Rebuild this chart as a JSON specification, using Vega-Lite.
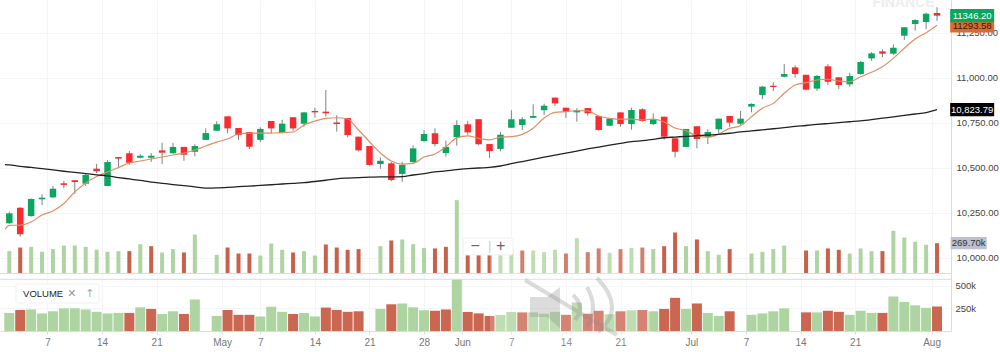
{
"$schema":"https://vega.github.io/schema/vega-lite/v6.json",
"width":951,"height":331,"autosize":{"type":"none"},
"padding":{"left":0,"top":0,"right":49,"bottom":21},
"background":"#ffffff",
"config":{"view":{"stroke":null},"font":"Liberation Sans"},
"datasets":{
"one":[{"k":85}],
"lastVolume":[{"k":85,"label":"269.70k","volume":269700}],
"sessions":[
{"k":-0.4,"ema":10159,"sma":10519},
{"k":0,"open":10193,"high":10257,"low":10189,"close":10248,"volume":199000,"flow":"up","ema":10181,"sma":10517},
{"k":1,"open":10279,"high":10283,"low":10118,"close":10132,"volume":231000,"flow":"down","ema":10183,"sma":10509},
{"k":2,"open":10233,"high":10330,"low":10230,"close":10328,"volume":237000,"flow":"up","ema":10200,"sma":10503},
{"k":3,"open":10326,"high":10354,"low":10294,"close":10335,"volume":193000,"flow":"up","ema":10239,"sma":10496},
{"k":4,"open":10337,"high":10400,"low":10333,"close":10385,"volume":217000,"flow":"up","ema":10261,"sma":10489},
{"k":5,"open":10415,"high":10428,"low":10387,"close":10406,"volume":249000,"flow":"up","ema":10303,"sma":10482},
{"k":6,"open":10432,"high":10432,"low":10356,"close":10422,"volume":249000,"flow":"up","ema":10367,"sma":10476},
{"k":7,"open":10413,"high":10471,"low":10400,"close":10461,"volume":237000,"flow":"up","ema":10417,"sma":10469},
{"k":8,"open":10496,"high":10522,"low":10471,"close":10482,"volume":211000,"flow":"up","ema":10453,"sma":10462},
{"k":9,"open":10400,"high":10544,"low":10400,"close":10533,"volume":193000,"flow":"up","ema":10478,"sma":10456},
{"k":10,"open":10561,"high":10561,"low":10498,"close":10552,"volume":199000,"flow":"up","ema":10503,"sma":10447},
{"k":11,"open":10582,"high":10594,"low":10517,"close":10529,"volume":199000,"flow":"down","ema":10528,"sma":10439},
{"k":12,"open":10557,"high":10576,"low":10554,"close":10568,"volume":261000,"flow":"up","ema":10539,"sma":10431},
{"k":13,"open":10557,"high":10583,"low":10533,"close":10568,"volume":243000,"flow":"down","ema":10550,"sma":10422},
{"k":14,"open":10598,"high":10640,"low":10522,"close":10585,"volume":187000,"flow":"up","ema":10561,"sma":10415},
{"k":15,"open":10582,"high":10639,"low":10578,"close":10617,"volume":217000,"flow":"up","ema":10572,"sma":10408},
{"k":16,"open":10617,"high":10617,"low":10540,"close":10574,"volume":187000,"flow":"down","ema":10583,"sma":10402},
{"k":17,"open":10590,"high":10632,"low":10565,"close":10622,"volume":347000,"flow":"up","ema":10600,"sma":10395},
{"k":18,"open":10656,"high":10720,"low":10656,"close":10694,"ema":10622,"sma":10388},
{"k":19,"open":10707,"high":10759,"low":10707,"close":10743,"volume":166000,"flow":"up","ema":10644,"sma":10389},
{"k":20,"open":10787,"high":10787,"low":10693,"close":10720,"volume":231000,"flow":"down","ema":10661,"sma":10392},
{"k":21,"open":10722,"high":10722,"low":10656,"close":10683,"volume":178000,"flow":"down","ema":10689,"sma":10396},
{"k":22,"open":10700,"high":10700,"low":10604,"close":10618,"volume":178000,"flow":"down","ema":10694,"sma":10399},
{"k":23,"open":10656,"high":10726,"low":10643,"close":10717,"volume":160000,"flow":"up","ema":10694,"sma":10403},
{"k":24,"open":10761,"high":10761,"low":10693,"close":10720,"volume":267000,"flow":"up","ema":10694,"sma":10407},
{"k":25,"open":10694,"high":10768,"low":10694,"close":10746,"volume":211000,"flow":"up","ema":10697,"sma":10411},
{"k":26,"open":10782,"high":10782,"low":10707,"close":10720,"volume":187000,"flow":"down","ema":10700,"sma":10415},
{"k":27,"open":10746,"high":10809,"low":10729,"close":10809,"volume":199000,"flow":"up","ema":10739,"sma":10419},
{"k":28,"open":10817,"high":10835,"low":10779,"close":10809,"volume":160000,"flow":"up","ema":10761,"sma":10425},
{"k":29,"open":10813,"high":10933,"low":10785,"close":10804,"volume":258000,"flow":"down","ema":10776,"sma":10432},
{"k":30,"open":10753,"high":10793,"low":10702,"close":10744,"volume":231000,"flow":"down","ema":10779,"sma":10440},
{"k":31,"open":10778,"high":10778,"low":10671,"close":10683,"volume":211000,"flow":"down","ema":10772,"sma":10444},
{"k":32,"open":10674,"high":10674,"low":10593,"close":10598,"volume":217000,"flow":"down","ema":10711,"sma":10447},
{"k":33,"open":10622,"high":10622,"low":10513,"close":10517,"ema":10646,"sma":10449},
{"k":34,"open":10522,"high":10559,"low":10496,"close":10540,"volume":243000,"flow":"up","ema":10583,"sma":10451},
{"k":35,"open":10526,"high":10535,"low":10426,"close":10433,"volume":294000,"flow":"down","ema":10539,"sma":10451},
{"k":36,"open":10467,"high":10535,"low":10424,"close":10517,"volume":303000,"flow":"up","ema":10522,"sma":10452},
{"k":37,"open":10533,"high":10626,"low":10526,"close":10609,"volume":261000,"flow":"up","ema":10526,"sma":10461},
{"k":38,"open":10650,"high":10711,"low":10646,"close":10689,"volume":228000,"flow":"up","ema":10561,"sma":10469},
{"k":39,"open":10693,"high":10720,"low":10620,"close":10633,"volume":223000,"flow":"down","ema":10578,"sma":10478},
{"k":40,"open":10583,"high":10652,"low":10563,"close":10617,"volume":237000,"flow":"down","ema":10618,"sma":10484},
{"k":41,"open":10672,"high":10765,"low":10624,"close":10739,"volume":653000,"flow":"up","ema":10667,"sma":10491},
{"k":42,"open":10743,"high":10761,"low":10685,"close":10698,"volume":209000,"flow":"down","ema":10678,"sma":10496},
{"k":43,"open":10771,"high":10771,"low":10626,"close":10632,"volume":194000,"flow":"down","ema":10665,"sma":10500},
{"k":44,"open":10633,"high":10633,"low":10556,"close":10594,"volume":165000,"flow":"down","ema":10656,"sma":10503},
{"k":45,"open":10606,"high":10700,"low":10593,"close":10685,"volume":176000,"flow":"up","ema":10671,"sma":10511},
{"k":46,"open":10724,"high":10821,"low":10724,"close":10771,"volume":209000,"flow":"up","ema":10674,"sma":10524},
{"k":47,"open":10739,"high":10783,"low":10711,"close":10771,"volume":205000,"flow":"down","ema":10687,"sma":10536},
{"k":48,"open":10779,"high":10854,"low":10779,"close":10789,"volume":205000,"flow":"up","ema":10721,"sma":10548},
{"k":49,"open":10821,"high":10857,"low":10794,"close":10846,"volume":190000,"flow":"up","ema":10778,"sma":10560},
{"k":50,"open":10891,"high":10891,"low":10844,"close":10859,"volume":211000,"flow":"up","ema":10809,"sma":10571},
{"k":51,"open":10835,"high":10835,"low":10778,"close":10813,"volume":178000,"flow":"down","ema":10813,"sma":10583},
{"k":52,"open":10809,"high":10832,"low":10757,"close":10821,"volume":314000,"flow":"up","ema":10818,"sma":10594},
{"k":53,"open":10833,"high":10833,"low":10790,"close":10804,"volume":190000,"flow":"down","ema":10817,"sma":10606},
{"k":54,"open":10789,"high":10789,"low":10707,"close":10711,"volume":223000,"flow":"down","ema":10789,"sma":10616},
{"k":55,"open":10735,"high":10774,"low":10732,"close":10774,"volume":184000,"flow":"up","ema":10776,"sma":10627},
{"k":56,"open":10809,"high":10809,"low":10729,"close":10744,"volume":217000,"flow":"down","ema":10771,"sma":10637},
{"k":57,"open":10744,"high":10835,"low":10713,"close":10822,"volume":228000,"flow":"up","ema":10771,"sma":10646},
{"k":58,"open":10826,"high":10832,"low":10757,"close":10761,"volume":231000,"flow":"down","ema":10767,"sma":10652},
{"k":59,"open":10744,"high":10804,"low":10739,"close":10772,"volume":217000,"flow":"up","ema":10772,"sma":10659},
{"k":60,"open":10785,"high":10785,"low":10658,"close":10674,"volume":243000,"flow":"down","ema":10756,"sma":10668},
{"k":61,"open":10665,"high":10665,"low":10559,"close":10590,"volume":365000,"flow":"down","ema":10722,"sma":10672},
{"k":62,"open":10617,"high":10717,"low":10617,"close":10717,"volume":243000,"flow":"up","ema":10707,"sma":10676},
{"k":63,"open":10732,"high":10732,"low":10609,"close":10661,"volume":303000,"flow":"down","ema":10678,"sma":10679},
{"k":64,"open":10672,"high":10715,"low":10633,"close":10700,"volume":199000,"flow":"up","ema":10671,"sma":10683},
{"k":65,"open":10715,"high":10774,"low":10693,"close":10774,"volume":166000,"flow":"up","ema":10689,"sma":10687},
{"k":66,"open":10789,"high":10789,"low":10729,"close":10752,"volume":217000,"flow":"down","ema":10720,"sma":10693},
{"k":67,"open":10746,"high":10817,"low":10739,"close":10774,"ema":10735,"sma":10701},
{"k":68,"open":10841,"high":10859,"low":10809,"close":10856,"volume":178000,"flow":"up","ema":10785,"sma":10706},
{"k":69,"open":10906,"high":10956,"low":10882,"close":10952,"volume":193000,"flow":"up","ema":10832,"sma":10712},
{"k":70,"open":10957,"high":10976,"low":10928,"close":10950,"volume":217000,"flow":"up","ema":10859,"sma":10718},
{"k":71,"open":11007,"high":11078,"low":11004,"close":11022,"volume":249000,"flow":"up","ema":10915,"sma":10724},
{"k":72,"open":11059,"high":11071,"low":11002,"close":11022,"ema":10961,"sma":10731},
{"k":73,"open":11018,"high":11018,"low":10933,"close":10935,"volume":205000,"flow":"down","ema":10974,"sma":10736},
{"k":74,"open":10941,"high":11017,"low":10929,"close":11011,"volume":205000,"flow":"up","ema":10989,"sma":10742},
{"k":75,"open":11065,"high":11078,"low":10961,"close":10979,"volume":223000,"flow":"down","ema":10993,"sma":10747},
{"k":76,"open":11004,"high":11004,"low":10939,"close":10961,"volume":211000,"flow":"down","ema":10983,"sma":10752},
{"k":77,"open":10965,"high":11029,"low":10952,"close":11011,"volume":178000,"flow":"up","ema":10979,"sma":10757},
{"k":78,"open":11022,"high":11094,"low":11018,"close":11089,"volume":223000,"flow":"up","ema":11007,"sma":10762},
{"k":79,"open":11109,"high":11143,"low":11096,"close":11137,"volume":199000,"flow":"up","ema":11032,"sma":10769},
{"k":80,"open":11148,"high":11159,"low":11115,"close":11135,"volume":199000,"flow":"down","ema":11063,"sma":10777},
{"k":81,"open":11135,"high":11187,"low":11128,"close":11168,"volume":380000,"flow":"up","ema":11109,"sma":10784},
{"k":82,"open":11235,"high":11282,"low":11211,"close":11282,"volume":320000,"flow":"up","ema":11165,"sma":10792},
{"k":83,"open":11300,"high":11326,"low":11263,"close":11322,"volume":282000,"flow":"up","ema":11217,"sma":10800},
{"k":84,"open":11311,"high":11363,"low":11272,"close":11357,"volume":255000,"flow":"up","ema":11252,"sma":10808},
{"k":85,"open":11361,"high":11393,"low":11317,"close":11346.2,"volume":269700,"flow":"down","ema":11293.58,"sma":10823.79}
],
"lastPrices":[
{"k":85,"series":"ema","price":11290,"label":"11293.58"},
{"k":85,"series":"sma","price":10823.79,"label":"10,823.79"},
{"k":85,"series":"close","price":11346.2,"label":"11346.20"}
]
},
"data":{"name":"sessions"},
"encoding":{"x":{"field":"k","type":"quantitative","scale":{"domain":[-0.852,86.28],"nice":false,"zero":false,"padding":0},
"axis":{"title":null,"values":[3.5,8.5,13.5,19.5,23,28,33,38,41.5,46,51,56,62.5,67.5,72.5,77.5,84.5],
"labelExpr":"['7','14','21','May','7','14','21','28','Jun','7','14','21','Jul','7','14','21','Aug'][indexof([3.5,8.5,13.5,19.5,23,28,33,38,41.5,46,51,56,62.5,67.5,72.5,77.5,84.5],datum.value)]",
"labelColor":{"expr":"length(datum.label)>2?'#333333':'#777777'"},
"labelFontSize":10,"labelPadding":3,"tickSize":3,"tickColor":"#d6dcea","domainColor":"#d6dcea","grid":true,"gridColor":"#f4f5f7","labelFlush":false,"labelOverlap":false}}},
"layer":[
{"layer":[
{"mark":{"type":"rule","color":"#808080","strokeWidth":1},"encoding":{"y":{"field":"low","type":"quantitative","scale":{"domain":[9594.4,11433.3],"nice":false,"zero":false,"padding":0},
 "axis":{"title":null,"orient":"right","values":[10000,10250,10500,10750,11000,11250],"format":",.2f","labelFontSize":9.5,"labelColor":"#444444","tickSize":0,"labelPadding":5,"domain":true,"domainColor":"#d6dcea","grid":true,"gridColor":"#f4f5f7"}},"y2":{"field":"high"}}},
{"data":{"name":"one"},"mark":{"type":"text","fontSize":14,"fontWeight":"bold","color":"#eeeeee","align":"center","baseline":"alphabetic"},
 "encoding":{"x":{"datum":81.93},"y":{"datum":11394,"type":"quantitative"},"text":{"value":"FINANCE"}}},
{"mark":{"type":"bar","width":6.5},"encoding":{"y":{"field":"open","type":"quantitative"},"y2":{"field":"close"},
 "color":{"condition":{"test":"datum.close>=datum.open","value":"#09a65f"},"value":"#fa2b2f"}}},
{"mark":{"type":"line","color":"#dd8f62","strokeWidth":1.2,"interpolate":"monotone"},"encoding":{"y":{"field":"ema","type":"quantitative"}}},
{"mark":{"type":"line","color":"#222222","strokeWidth":1.3,"interpolate":"monotone"},"encoding":{"y":{"field":"sma","type":"quantitative"}}},
{"data":{"name":"lastPrices"},"mark":{"type":"point","shape":"M-1,-.3H1V.3H-1Z","filled":true,"opacity":1,"size":1936},
 "encoding":{"x":{"datum":88.22},"y":{"field":"price","type":"quantitative"},
 "color":{"field":"series","type":"nominal","legend":null,"scale":{"domain":["ema","sma","close"],"range":["#e2692a","#000000","#09a65f"]}}}},
{"data":{"name":"lastPrices"},"mark":{"type":"text","fontSize":9.5,"align":"center","baseline":"middle"},
 "encoding":{"x":{"datum":88.22},"y":{"field":"price","type":"quantitative"},"text":{"field":"label"},
 "color":{"condition":{"test":"datum.series==='ema'","value":"#222222"},"value":"#ffffff"}}}
]},
{"layer":[
{"mark":{"type":"bar","width":10},"encoding":{"y":{"field":"volume","type":"quantitative","scale":{"domain":[0,569000],"range":[331,279.3],"nice":false,"zero":false,"clamp":true,"padding":0},
 "axis":{"title":null,"orient":"right","values":[250000,500000],"format":"~s","labelFontSize":9.5,"labelColor":"#444444","tickSize":0,"labelPadding":4,"domain":false,"grid":true,"gridColor":"#f4f5f7"}},
 "color":{"field":"flow","type":"nominal","legend":null,"scale":{"domain":["up","down"],"range":["#aed5a1","#cb6650"]}}}},
{"data":{"name":"one"},"mark":{"type":"rule","color":"#d6dcea","strokeWidth":1},"encoding":{"x":{"value":0},"x2":{"value":951},"y":{"datum":569000,"type":"quantitative"}}}
]},
{"layer":[
{"mark":{"type":"bar","width":4},"encoding":{"y":{"field":"volume","type":"quantitative","scale":{"domain":[0,2434000],"range":[273.5,0],"nice":false,"zero":false,"padding":0},"axis":null},
 "color":{"field":"flow","type":"nominal","legend":null,"scale":{"domain":["up","down"],"range":["#aed5a1","#c8604a"]}}}},
{"data":{"name":"one"},"mark":{"type":"rule","color":"#d6dcea","strokeWidth":1},"encoding":{"x":{"value":0},"x2":{"value":951},"y":{"datum":0,"type":"quantitative","axis":null}}},
{"data":{"name":"one"},"mark":{"type":"rect","fill":"#ffffff","opacity":0.2},"encoding":{"x":{"datum":44.04},"x2":{"datum":58.7},"y":{"datum":333000,"type":"quantitative","axis":null},"y2":{"datum":-636000}}},
{"data":{"name":"one"},"mark":{"type":"point","shape":"M-.667,-.183L-.383,-.183L-.167,-.35L-.167,.333L-.383,.15L-.667,.15Z","filled":true,"color":"#8a8a8a","opacity":0.3,"size":14400},
 "encoding":{"x":{"datum":51.37},"y":{"datum":-307000,"type":"quantitative","axis":null}}},
{"data":{"name":"one"},"mark":{"type":"point","shape":"M-.75,-.467L.783,.45M.05,-.217Q.267,-.017,.083,.2M.283,-.35Q.483,0,.283,.317M.45,-.5Q.942,0,.467,.4","filled":false,"color":"#8a8a8a","opacity":0.3,"strokeWidth":4,"size":14400},
 "encoding":{"x":{"datum":51.37},"y":{"datum":-307000,"type":"quantitative","axis":null}}},
{"data":{"name":"one"},"mark":{"type":"rect","fill":"#ffffff","stroke":"#f0f0f0","cornerRadius":2},"encoding":{"x":{"datum":0.61},"x2":{"datum":8.22},"y":{"datum":-93500,"type":"quantitative","axis":null},"y2":{"datum":-262500}}},
{"data":{"name":"one"},"mark":{"type":"text","fontSize":9.5,"align":"left","baseline":"middle","color":"#222222"},"encoding":{"x":{"datum":1.26},"y":{"datum":-178000,"type":"quantitative","axis":null},"text":{"value":"VOLUME"}}},
{"data":{"name":"one"},"mark":{"type":"text","fontSize":11,"align":"center","baseline":"middle","color":"#999999","font":"DejaVu Sans"},"encoding":{"x":{"datum":5.74},"y":{"datum":-178000,"type":"quantitative","axis":null},"text":{"value":"✕"}}},
{"data":{"name":"one"},"mark":{"type":"text","fontSize":11,"align":"center","baseline":"middle","color":"#aaaaaa","font":"DejaVu Sans"},"encoding":{"x":{"datum":7.39},"y":{"datum":-178000,"type":"quantitative","axis":null},"text":{"value":"↑"}}},
{"data":{"name":"one"},"mark":{"type":"rect","fill":"#ffffff","stroke":"#f0f0f0","cornerRadius":2},"encoding":{"x":{"datum":41.57},"x2":{"datum":46.15},"y":{"datum":316000,"type":"quantitative","axis":null},"y2":{"datum":165000}}},
{"data":{"name":"one"},"mark":{"type":"text","fontSize":16,"align":"center","baseline":"middle","color":"#666666"},"encoding":{"x":{"datum":42.69},"y":{"datum":245000,"type":"quantitative","axis":null},"text":{"value":"−"}}},
{"data":{"name":"one"},"mark":{"type":"text","fontSize":16,"align":"center","baseline":"middle","color":"#666666"},"encoding":{"x":{"datum":45.03},"y":{"datum":245000,"type":"quantitative","axis":null},"text":{"value":"+"}}},
{"data":{"name":"one"},"mark":{"type":"text","fontSize":13,"align":"center","baseline":"middle","color":"#cccccc"},"encoding":{"x":{"datum":44.02},"y":{"datum":245000,"type":"quantitative","axis":null},"text":{"value":"|"}}},
{"data":{"name":"lastVolume"},"mark":{"type":"point","shape":"M-1,-.34H1V.34H-1Z","filled":true,"opacity":1,"color":"#bcc0cf","size":1296},
 "encoding":{"x":{"datum":87.9},"y":{"field":"volume","type":"quantitative","axis":null}}},
{"data":{"name":"lastVolume"},"mark":{"type":"text","fontSize":9.5,"align":"center","baseline":"middle","color":"#333333"},
 "encoding":{"x":{"datum":87.9},"y":{"field":"volume","type":"quantitative","axis":null},"text":{"field":"label"}}}
]}
],
"resolve":{"scale":{"y":"independent","color":"independent"},"axis":{"y":"independent"}}
}
